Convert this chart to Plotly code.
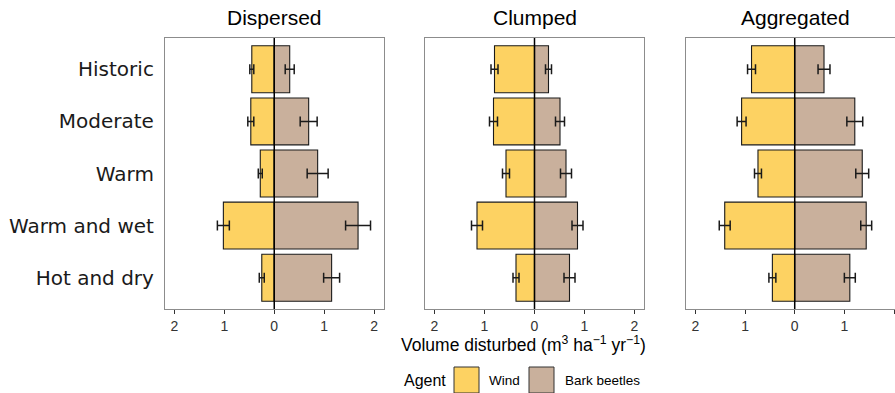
import plotly.graph_objects as go

W, H = 895, 393

scenarios = ["Historic", "Moderate", "Warm", "Warm and wet", "Hot and dry"]
panels = ["Dispersed", "Clumped", "Aggregated"]

# Volume disturbed (m3 ha-1 yr-1), mean and standard error
wind_dispersed = [0.45, 0.47, 0.28, 1.02, 0.25]
wind_dispersed_se = [0.04, 0.06, 0.04, 0.12, 0.05]
beetle_dispersed = [0.31, 0.69, 0.87, 1.68, 1.15]
beetle_dispersed_se = [0.09, 0.17, 0.21, 0.25, 0.16]

wind_clumped = [0.80, 0.82, 0.57, 1.15, 0.37]
wind_clumped_se = [0.07, 0.08, 0.07, 0.11, 0.06]
beetle_clumped = [0.28, 0.51, 0.63, 0.86, 0.70]
beetle_clumped_se = [0.06, 0.09, 0.11, 0.11, 0.11]

wind_aggregated = [0.87, 1.07, 0.74, 1.41, 0.45]
wind_aggregated_se = [0.08, 0.09, 0.07, 0.11, 0.07]
beetle_aggregated = [0.59, 1.21, 1.36, 1.44, 1.11]
beetle_aggregated_se = [0.12, 0.16, 0.13, 0.11, 0.11]

x_tickvals = [-2, -1, 0, 1, 2]
x_ticktext = ["2", "1", "0", "1", "2"]

WIND_COL = "#FDD262"
BEETLE_COL = "#C9B09C"
FRAME_COL = "#8C8C8C"

data = [
    (wind_dispersed, wind_dispersed_se, beetle_dispersed, beetle_dispersed_se),
    (wind_clumped, wind_clumped_se, beetle_clumped, beetle_clumped_se),
    (wind_aggregated, wind_aggregated_se, beetle_aggregated, beetle_aggregated_se),
]

# pixel layout of the panels
px_left = [165, 425, 686]
px_right = [383.5, 644, 895]
x_ranges = [[-2.19, 2.19], [-2.19, 2.19], [-2.19, 2.02]]
top_px, bot_px = 38, 309
ydom = [1 - bot_px / H, 1 - top_px / H]

fig = go.Figure()

for i, (w, wse, b, bse) in enumerate(data):
    xa = "x" if i == 0 else f"x{i+1}"
    ya = "y" if i == 0 else f"y{i+1}"
    fig.add_trace(go.Bar(
        y=scenarios, x=[-v for v in w], orientation="h", width=0.9,
        marker=dict(color=WIND_COL, line=dict(color="#1a1a1a", width=1.1)),
        error_x=dict(type="data", array=wse, symmetric=True, color="#1a1a1a",
                     thickness=1.5, width=5),
        xaxis=xa, yaxis=ya, showlegend=False, name="Wind"))
    fig.add_trace(go.Bar(
        y=scenarios, x=b, orientation="h", width=0.9,
        marker=dict(color=BEETLE_COL, line=dict(color="#1a1a1a", width=1.1)),
        error_x=dict(type="data", array=bse, symmetric=True, color="#1a1a1a",
                     thickness=1.5, width=5),
        xaxis=xa, yaxis=ya, showlegend=False, name="Bark beetles"))

layout = dict(
    width=W, height=H, margin=dict(l=0, r=0, t=0, b=0),
    paper_bgcolor="white", plot_bgcolor="white",
    barmode="overlay", showlegend=False,
    font=dict(family="Liberation Sans, Arial, sans-serif", color="black"),
)

for i in range(3):
    xk = "xaxis" if i == 0 else f"xaxis{i+1}"
    yk = "yaxis" if i == 0 else f"yaxis{i+1}"
    ya = "y" if i == 0 else f"y{i+1}"
    xa = "x" if i == 0 else f"x{i+1}"
    layout[xk] = dict(
        domain=[px_left[i] / W, px_right[i] / W], range=x_ranges[i],
        anchor=ya, tickvals=x_tickvals, ticktext=x_ticktext,
        ticks="outside", ticklen=4, tickcolor="#333333", tickwidth=1,
        tickfont=dict(size=14, color="#333333"),
        showgrid=False, zeroline=False,
        showline=True, linecolor=FRAME_COL, linewidth=1.2, mirror=True,
    )
    layout[yk] = dict(
        domain=ydom, anchor=xa, type="category",
        categoryorder="array", categoryarray=scenarios,
        range=[4.6, -0.6], showgrid=False, zeroline=False,
        showline=True, linecolor=FRAME_COL, linewidth=1.2,
        mirror=(i < 2), ticks="",
        showticklabels=(i == 0),
        tickfont=dict(family="DejaVu Sans, Verdana, sans-serif", size=20, color="#1a1a1a"),
        ticklabelstandoff=6,
    )

fig.update_layout(**layout)

# zero lines
for i in range(3):
    xa = "x" if i == 0 else f"x{i+1}"
    ya = "y" if i == 0 else f"y{i+1}"
    fig.add_shape(type="line", xref=xa, yref=f"{ya} domain", x0=0, x1=0, y0=0, y1=1,
                  line=dict(color="black", width=1.5), layer="above")

# panel titles
for i, t in enumerate(panels):
    cx = (px_left[i] + (px_left[i] + 219)) / 2
    fig.add_annotation(text=t, x=cx / W, y=1 - 18 / H, xref="paper", yref="paper",
                       showarrow=False, xanchor="center", yanchor="middle",
                       font=dict(size=21, color="black"))

# x-axis title
fig.add_annotation(text="Volume disturbed (m<sup>3</sup> ha<sup>\u22121</sup> yr<sup>\u22121</sup>)",
                   x=523 / W, y=1 - 343.5 / H, xref="paper", yref="paper",
                   showarrow=False, xanchor="center", yanchor="middle",
                   font=dict(size=17.5, color="black"))

# legend
leg_y = 380
fig.add_annotation(text="Agent", x=402 / W, y=1 - leg_y / H, xref="paper", yref="paper",
                   showarrow=False, xanchor="left", yanchor="middle",
                   font=dict(size=16, color="black"))
for x0, tx, col, label in [(454, 487, WIND_COL, "Wind"), (529, 563, BEETLE_COL, "Bark beetles")]:
    fig.add_shape(type="rect", xref="paper", yref="paper",
                  x0=x0 / W, x1=(x0 + 25) / W, y0=1 - (leg_y + 13) / H, y1=1 - (leg_y - 13) / H,
                  fillcolor=col, line=dict(color="#333333", width=1))
    fig.add_annotation(text=label, x=tx / W, y=1 - leg_y / H, xref="paper", yref="paper",
                       showarrow=False, xanchor="left", yanchor="middle",
                       font=dict(size=13.5, color="black"))

fig.write_html("out.html")
